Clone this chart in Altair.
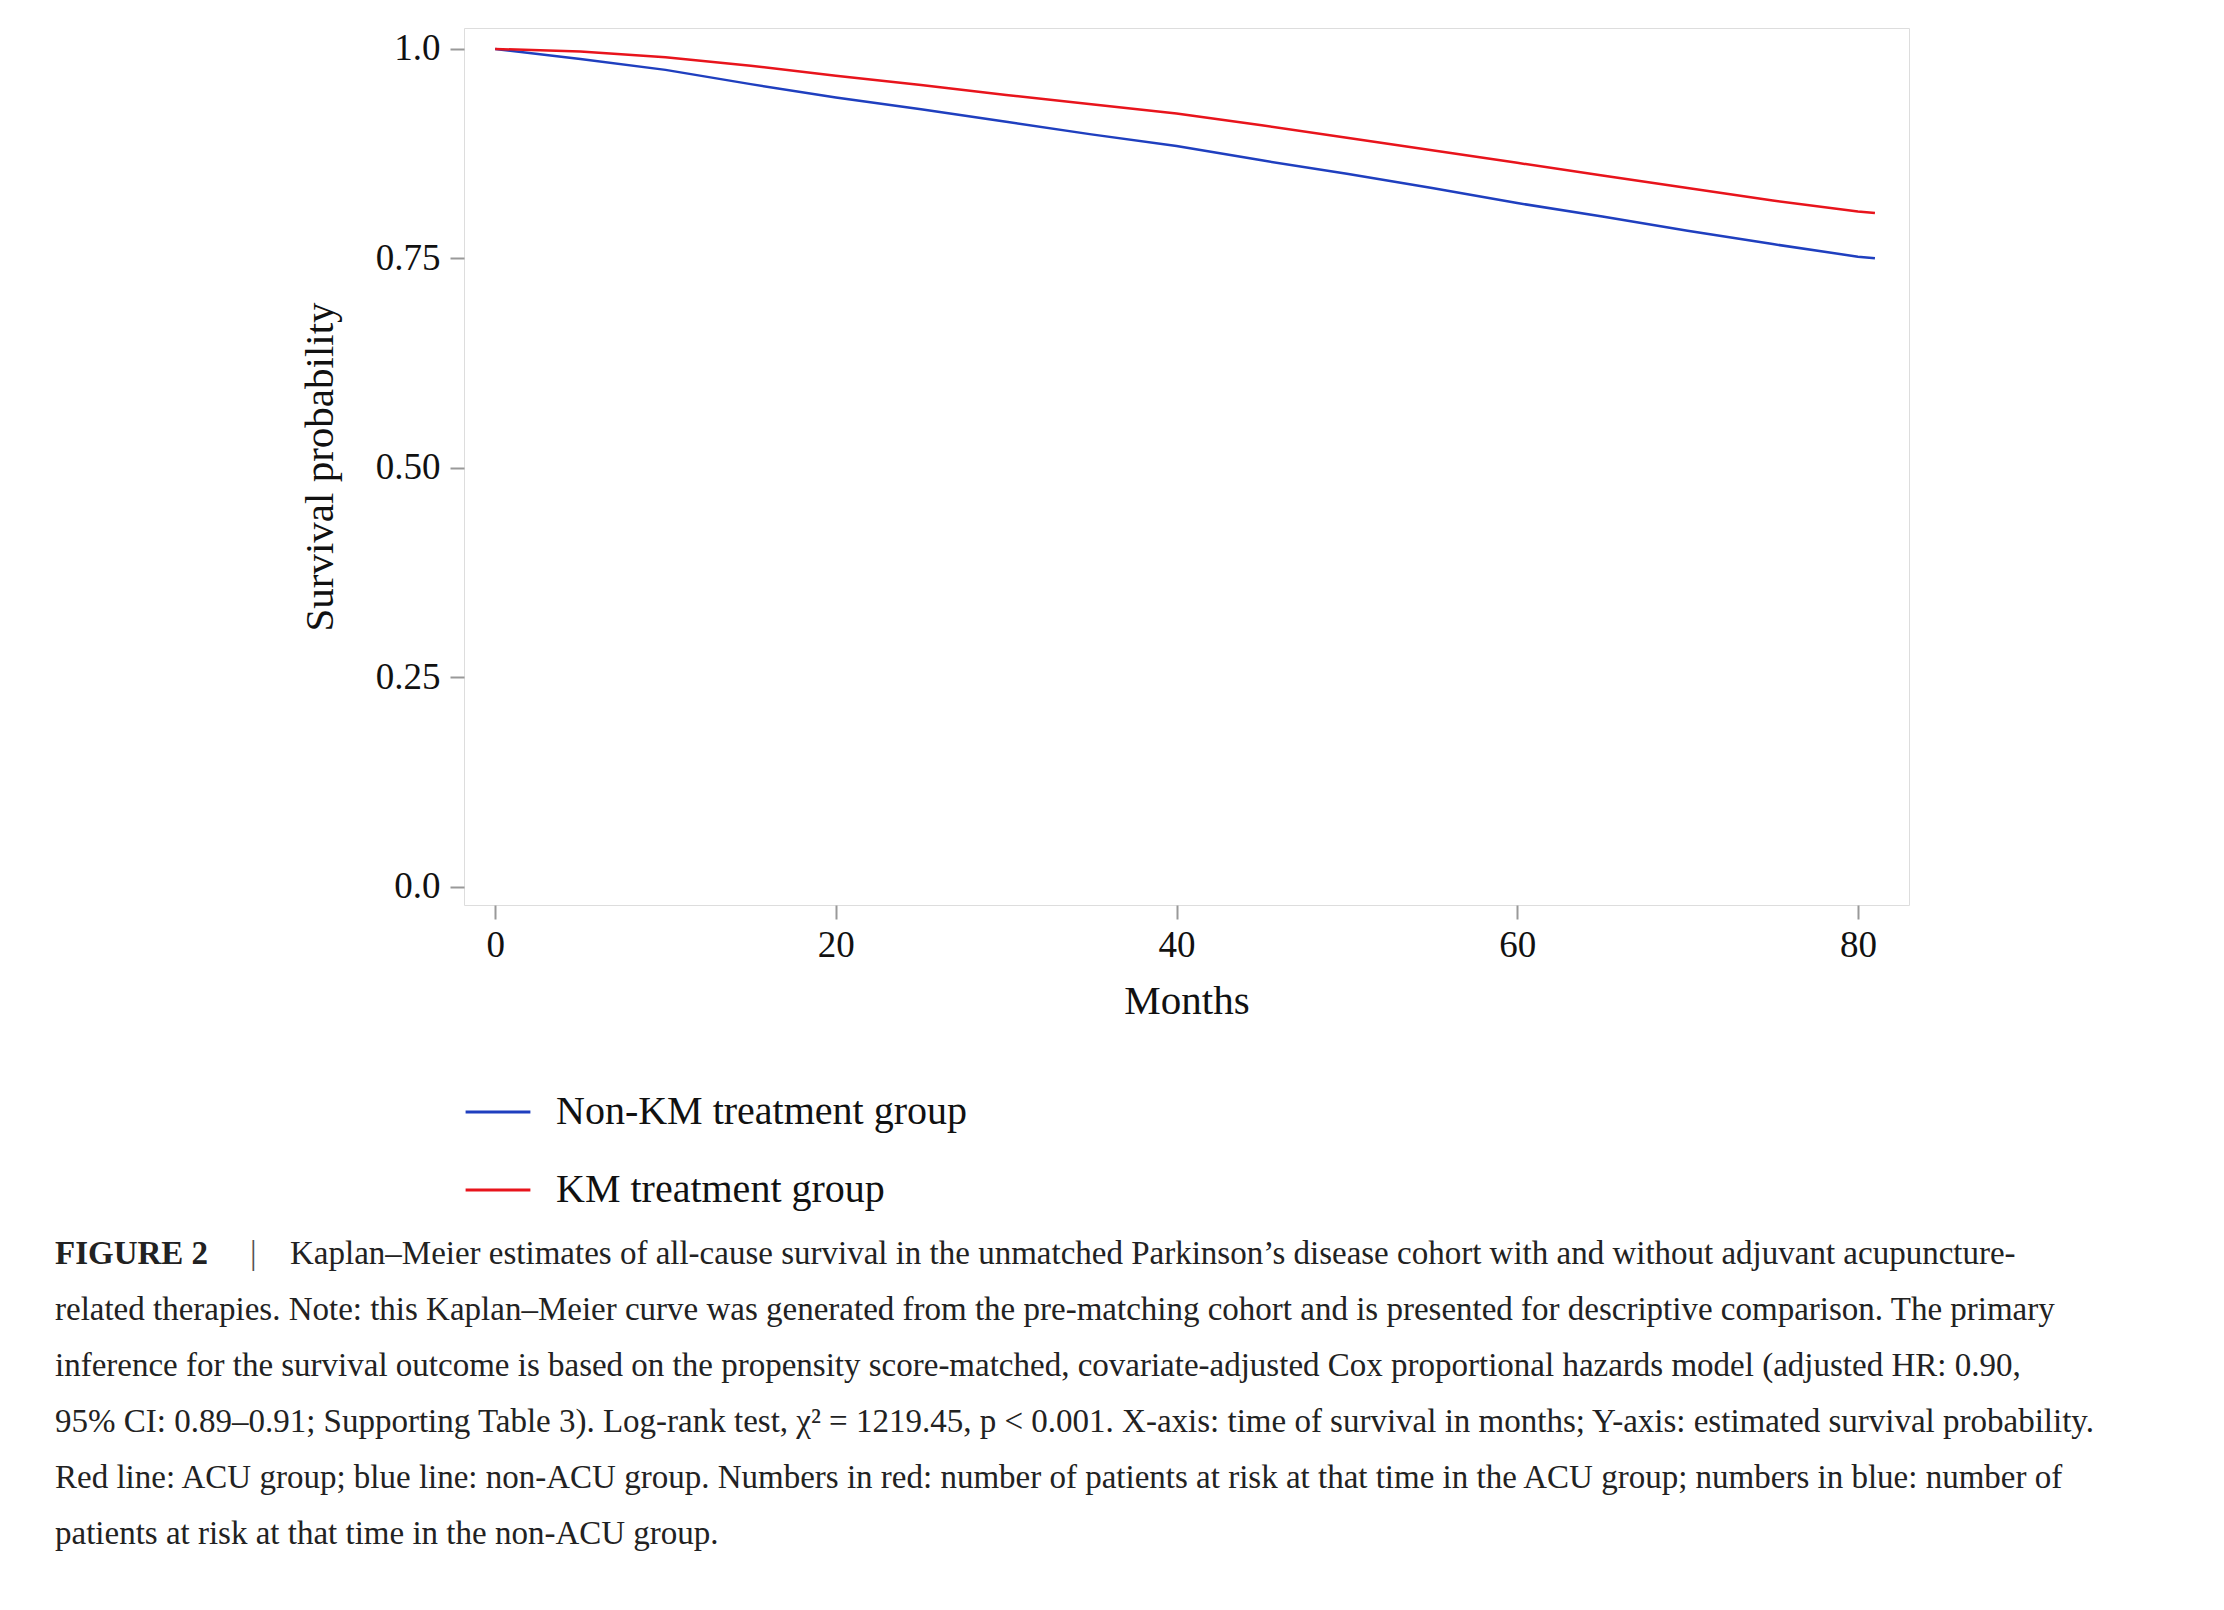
import altair as alt
import pandas as pd

months = [0, 5, 10, 15, 20, 25, 30, 35, 40, 45, 50, 55, 60, 65, 70, 75, 80, 81]
non_km = [1.0, 0.988, 0.975, 0.958, 0.942, 0.928, 0.913, 0.898, 0.884, 0.867,
          0.851, 0.834, 0.816, 0.800, 0.783, 0.767, 0.752, 0.750]
km = [1.0, 0.997, 0.990, 0.980, 0.968, 0.957, 0.945, 0.934, 0.923, 0.909,
      0.894, 0.879, 0.864, 0.849, 0.834, 0.819, 0.806, 0.804]
groups = ["Non-KM treatment group", "KM treatment group"]
colors = ["#1f3fbf", "#e8141c"]

caption_lines = [
    "Kaplan\u2013Meier estimates of all-cause survival in the unmatched Parkinson\u2019s disease cohort with and without adjuvant acupuncture-",
    "related therapies. Note: this Kaplan\u2013Meier curve was generated from the pre-matching cohort and is presented for descriptive comparison. The primary",
    "inference for the survival outcome is based on the propensity score-matched, covariate-adjusted Cox proportional hazards model (adjusted HR: 0.90,",
    "95% CI: 0.89\u20130.91; Supporting Table 3). Log-rank test, \u03c7\u00b2 = 1219.45, p < 0.001. X-axis: time of survival in months; Y-axis: estimated survival probability.",
    "Red line: ACU group; blue line: non-ACU group. Numbers in red: number of patients at risk at that time in the ACU group; numbers in blue: number of",
    "patients at risk at that time in the non-ACU group.",
]

rows = []
for g, vals in zip(groups, [non_km, km]):
    for m, v in zip(months, vals):
        rows.append({"month": m, "surv": v, "group": g})
df = pd.DataFrame(rows)

FONT = "Liberation Serif"

lines = alt.Chart(df).mark_line(strokeWidth=2.5, clip=False).encode(
    x=alt.X("month:Q", title="Months",
            scale=alt.Scale(domain=[-1.83, 83], nice=False, zero=False),
            axis=alt.Axis(values=[0, 20, 40, 60, 80], grid=False, labelFontSize=37,
                          titleFontSize=41, titleFontWeight="normal", labelColor="#111",
                          titleColor="#111", tickColor="#999", tickSize=14, tickWidth=2,
                          domain=False, labelPadding=8, titlePadding=18)),
    y=alt.Y("surv:Q", title="Survival probability",
            scale=alt.Scale(domain=[-0.022, 1.025], nice=False),
            axis=alt.Axis(values=[0, 0.25, 0.5, 0.75, 1.0], grid=False, labelFontSize=37,
                          titleFontSize=41, titleFontWeight="normal", labelColor="#111",
                          titleColor="#111", tickColor="#999", tickSize=14, tickWidth=2,
                          domain=False, labelPadding=10, titlePadding=34,
                          labelExpr="datum.value == 0 ? '0.0' : datum.value == 1 ? '1.0' : format(datum.value, '.2f')")),
    color=alt.Color("group:N", scale=alt.Scale(domain=groups, range=colors),
                    legend=alt.Legend(title=None, orient="none", legendX=0, legendY=1050,
                                      symbolType="stroke", symbolStrokeWidth=3, symbolSize=4200,
                                      labelFontSize=40, labelColor="#111", rowPadding=24,
                                      labelOffset=24, labelLimit=800, direction="vertical")),
)

cap_df = pd.DataFrame({"line": caption_lines, "i": list(range(len(caption_lines)))})
caption = alt.Chart(cap_df).transform_calculate(
    x0="datum.i == 0 ? -174 : -409"
).mark_text(align="left", baseline="middle", fontSize=33, font=FONT, color="#222").encode(
    x=alt.X("x0:Q", scale=None),
    y=alt.Y("i:Q", scale=alt.Scale(domain=[0, 5], range=[1226, 1226 + 5 * 56]), axis=None),
    text="line:N",
)
fig_lbl = alt.Chart(pd.DataFrame({"t": ["FIGURE 2"]})).mark_text(
    align="left", baseline="middle", fontSize=33, font=FONT, color="#222", fontWeight="bold"
).encode(x=alt.value(-409), y=alt.value(1226), text="t:N")
bar_lbl = alt.Chart(pd.DataFrame({"t": ["|"]})).mark_text(
    align="left", baseline="middle", fontSize=33, font=FONT, color="#555"
).encode(x=alt.value(-214), y=alt.value(1226), text="t:N")

chart = alt.layer(lines, caption, fig_lbl, bar_lbl).resolve_scale(y="independent").properties(
    width=1445, height=877,
    autosize=alt.AutoSizeParams(type="none"),
    padding={"left": 456, "top": 20, "right": 307, "bottom": 697},
    background="white",
).configure_view(stroke="#9a9a9a", strokeWidth=3).configure(font=FONT)

chart.save("out.html", embed_options={"renderer": "svg", "actions": False})
